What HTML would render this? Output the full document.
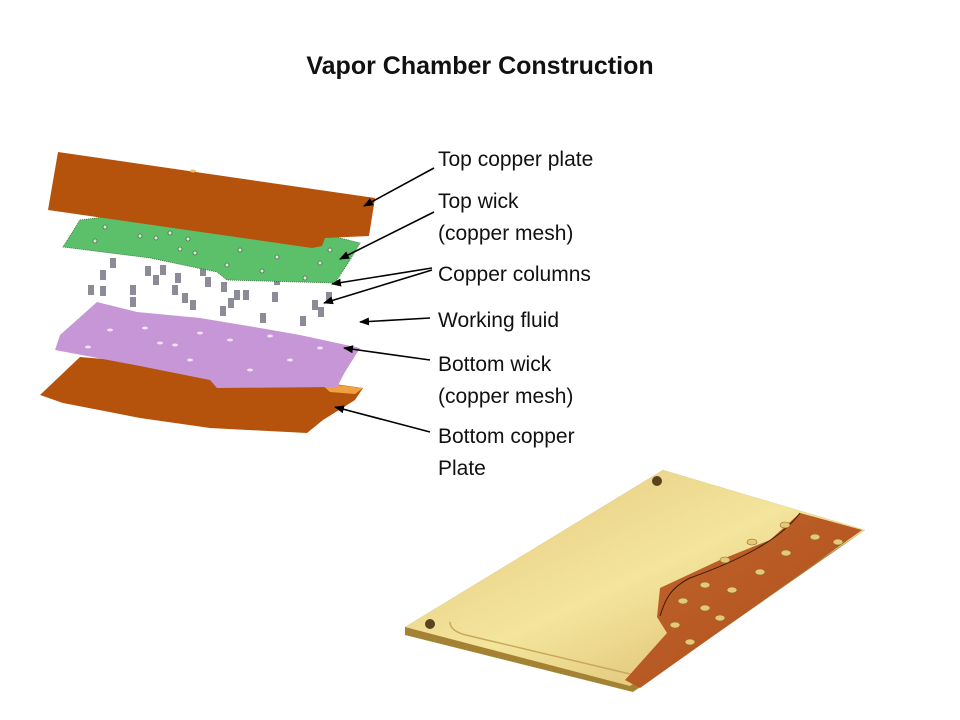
<!DOCTYPE html>
<html><head><meta charset="utf-8"><style>
html,body{margin:0;padding:0;background:#fff;}
svg{display:block;}
text{font-family:"Liberation Sans",sans-serif;}
</style></head><body>
<svg width="960" height="720" viewBox="0 0 960 720" xmlns="http://www.w3.org/2000/svg">
<defs>
<marker id="ah" markerWidth="10" markerHeight="8" refX="9" refY="4" orient="auto" markerUnits="userSpaceOnUse">
<path d="M0,0 L10,4 L0,8 Z" fill="#000"/></marker>
<linearGradient id="gold" x1="0" y1="0" x2="1" y2="1">
<stop offset="0" stop-color="#e2c47c"/><stop offset="0.5" stop-color="#f4e59c"/><stop offset="1" stop-color="#d4b064"/></linearGradient>
<linearGradient id="cu" x1="0" y1="0" x2="1" y2="1">
<stop offset="0" stop-color="#c0642a"/><stop offset="1" stop-color="#b04f1f"/></linearGradient>
</defs>
<text x="480" y="74" text-anchor="middle" font-size="25" font-weight="bold" fill="#111">Vapor Chamber Construction</text>

<polygon points="80,357 140,362 200,367 250,372 320,382 363,388 355,400 323,420 307,433 210,428 140,418 63,403 40,395" fill="#b5530c"/>
<polygon points="320,383 363,388 355,394 330,392" fill="#f0a040"/>
<polygon points="97,302 137,312 200,318 260,328 300,335 360,348 345,372 337,387 217,388 210,380 140,366 55,350 60,335" fill="#c796d6"/>
<g fill="#f0e0f4">
<ellipse cx="110" cy="330" rx="3" ry="1.5"/><ellipse cx="145" cy="328" rx="3" ry="1.5"/><ellipse cx="160" cy="343" rx="3" ry="1.5"/>
<ellipse cx="200" cy="333" rx="3" ry="1.5"/><ellipse cx="230" cy="340" rx="3" ry="1.5"/><ellipse cx="270" cy="336" rx="3" ry="1.5"/>
<ellipse cx="290" cy="360" rx="3" ry="1.5"/><ellipse cx="320" cy="348" rx="3" ry="1.5"/><ellipse cx="250" cy="370" rx="3" ry="1.5"/>
<ellipse cx="190" cy="360" rx="3" ry="1.5"/><ellipse cx="175" cy="345" rx="3" ry="1.5"/><ellipse cx="88" cy="347" rx="3" ry="1.5"/>
</g>
<g fill="#8c8c98">
<rect x="110" y="258" width="6" height="10"/><rect x="100" y="270" width="6" height="10"/><rect x="145" y="266" width="6" height="10"/>
<rect x="160" y="265" width="6" height="10"/><rect x="130" y="285" width="6" height="10"/><rect x="153" y="275" width="6" height="10"/>
<rect x="175" y="273" width="6" height="10"/><rect x="88" y="285" width="6" height="10"/><rect x="130" y="297" width="6" height="10"/>
<rect x="172" y="285" width="6" height="10"/><rect x="182" y="293" width="6" height="10"/><rect x="200" y="266" width="6" height="10"/>
<rect x="205" y="277" width="6" height="10"/><rect x="190" y="300" width="6" height="10"/><rect x="228" y="298" width="6" height="10"/>
<rect x="234" y="290" width="6" height="10"/><rect x="221" y="282" width="6" height="10"/><rect x="100" y="286" width="6" height="10"/>
<rect x="220" y="306" width="6" height="10"/><rect x="260" y="313" width="6" height="10"/><rect x="272" y="292" width="6" height="10"/>
<rect x="300" y="316" width="6" height="10"/><rect x="274" y="275" width="6" height="10"/><rect x="312" y="300" width="6" height="10"/>
<rect x="326" y="292" width="6" height="10"/><rect x="318" y="307" width="6" height="10"/><rect x="243" y="290" width="6" height="10"/>
</g>
<polygon points="80,220 120,215 200,218 300,228 360,243 350,260 335,283 227,280 217,272 150,258 63,247" fill="#5cbf6a" stroke="#2f6b36" stroke-width="0.8" stroke-dasharray="1 1"/>
<g fill="#d8e8d8" stroke="#2a4a2a" stroke-width="0.6">
<circle cx="105" cy="227" r="2"/><circle cx="95" cy="241" r="2"/><circle cx="140" cy="236" r="2"/><circle cx="156" cy="238" r="2"/>
<circle cx="170" cy="233" r="2"/><circle cx="188" cy="239" r="2"/><circle cx="180" cy="249" r="2"/><circle cx="195" cy="253" r="2"/>
<circle cx="240" cy="250" r="2"/><circle cx="227" cy="265" r="2"/><circle cx="277" cy="257" r="2"/><circle cx="262" cy="271" r="2"/>
<circle cx="320" cy="263" r="2"/><circle cx="330" cy="250" r="2"/><circle cx="305" cy="278" r="2"/>
</g>
<polygon points="58,152 375,198 369,236 325,238 322,246 312,248 48,210" fill="#b5530c"/>
<ellipse cx="193" cy="171" rx="3" ry="1.5" fill="#f0c060"/>

<g font-size="21" fill="#111">
<text x="438" y="166">Top copper plate</text>
<text x="438" y="208">Top wick</text>
<text x="438" y="240">(copper mesh)</text>
<text x="438" y="281">Copper columns</text>
<text x="438" y="327">Working fluid</text>
<text x="438" y="371">Bottom wick</text>
<text x="438" y="403">(copper mesh)</text>
<text x="438" y="443">Bottom copper</text>
<text x="438" y="475">Plate</text>
</g>
<g stroke="#000" stroke-width="1.6" marker-end="url(#ah)">
<line x1="434" y1="168" x2="364" y2="206"/>
<line x1="434" y1="212" x2="340" y2="259"/>
<line x1="432" y1="268" x2="332" y2="284"/>
<line x1="432" y1="270" x2="324" y2="303"/>
<line x1="430" y1="318" x2="360" y2="322"/>
<line x1="430" y1="360" x2="344" y2="348"/>
<line x1="430" y1="432" x2="335" y2="407"/>
</g>

<polygon points="663,470 865,530 633,692 405,635 405,627" fill="#a38234"/>
<polygon points="663,470 865,530 630,686 405,627" fill="url(#gold)"/>
<polygon points="800,513 862,530 640,688 625,680 667,633 657,617 660,588 720,560 770,540" fill="url(#cu)"/>
<path d="M800,513 C780,540 740,560 690,578 C670,588 665,600 660,616" stroke="#3a1a0a" fill="none" stroke-width="1"/>
<g fill="#e6c878" stroke="#8a6a2a" stroke-width="0.6">
<ellipse cx="785" cy="525" rx="5" ry="3"/><ellipse cx="752" cy="542" rx="5" ry="3"/><ellipse cx="725" cy="560" rx="5" ry="3"/>
<ellipse cx="815" cy="537" rx="5" ry="3"/><ellipse cx="786" cy="553" rx="5" ry="3"/><ellipse cx="760" cy="572" rx="5" ry="3"/>
<ellipse cx="705" cy="585" rx="5" ry="3"/><ellipse cx="732" cy="590" rx="5" ry="3"/><ellipse cx="683" cy="601" rx="5" ry="3"/>
<ellipse cx="705" cy="608" rx="5" ry="3"/><ellipse cx="675" cy="625" rx="5" ry="3"/><ellipse cx="690" cy="642" rx="5" ry="3"/>
<ellipse cx="838" cy="542" rx="5" ry="3"/><ellipse cx="720" cy="618" rx="5" ry="3"/>
</g>
<circle cx="657" cy="481" r="5" fill="#5a4420"/><circle cx="430" cy="624" r="5" fill="#5a4420"/>
<path d="M450,622 C450,630 460,634 470,636 L630,674" stroke="#c9a85a" fill="none" stroke-width="1.5"/>
</svg>
</body></html>
